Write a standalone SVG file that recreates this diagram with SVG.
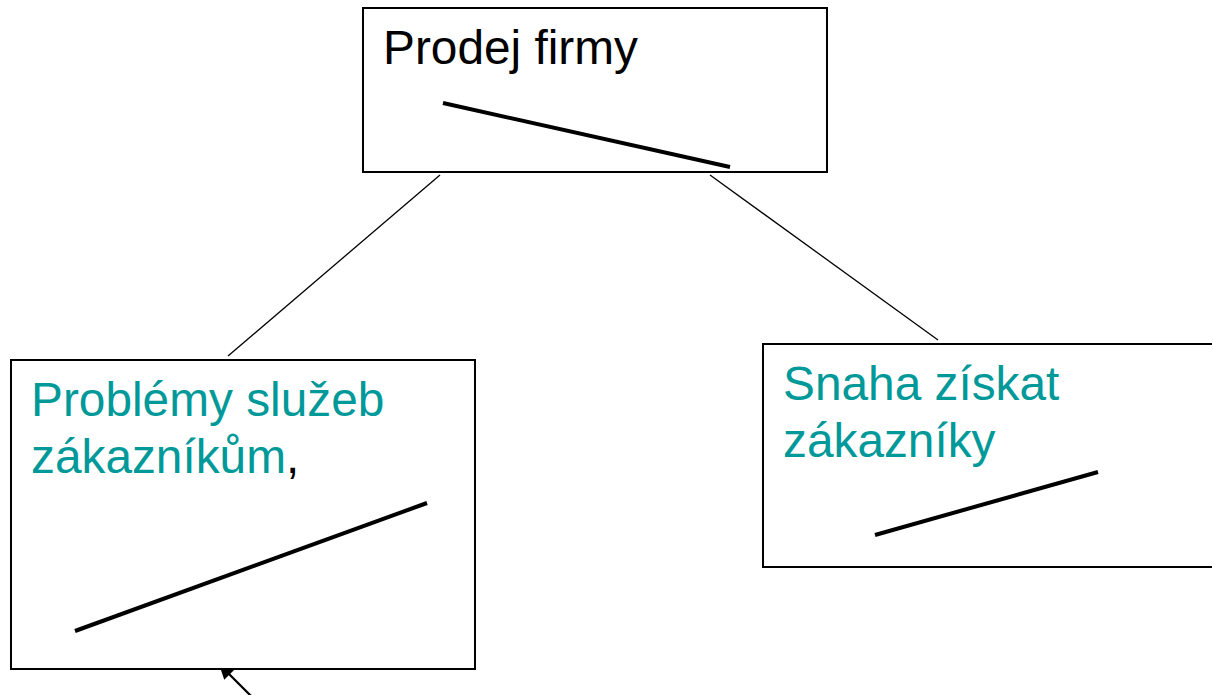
<svg xmlns="http://www.w3.org/2000/svg" width="1212" height="695" viewBox="0 0 1212 695">
<style>
.box{fill:#fff;stroke:#000;stroke-width:2}
.t{font-family:"Liberation Sans",Arial,sans-serif;font-size:47.8px}
.teal{fill:#009999}
.blk{fill:#000}
.bar{stroke:#000;stroke-width:4;stroke-linecap:butt}
.conn{stroke:#000;stroke-width:1.3;fill:none}
.arr{stroke:#000;stroke-width:2.2;fill:none}
</style>
<defs>
<marker id="ah" viewBox="0 0 10 10" refX="9" refY="5" markerWidth="17" markerHeight="15" markerUnits="userSpaceOnUse" orient="auto">
<path d="M0,0 L10,5 L0,10 z" fill="#000"/>
</marker>
</defs>
<g id="connectors">
<line class="conn" x1="440" y1="175" x2="228" y2="356"/>
<line class="conn" x1="710" y1="175" x2="938" y2="340"/>
<line class="arr" x1="265" y1="710" x2="220" y2="665" marker-end="url(#ah)"/>
</g>
<g id="node-prodej">
<rect class="box" x="363" y="8" width="464" height="164"/>
<text class="t blk" x="383" y="64">Prodej firmy</text>
<line class="bar" x1="443" y1="103" x2="730" y2="167"/>
</g>
<g id="node-problemy">
<rect class="box" x="11" y="360" width="464" height="309"/>
<text class="t teal" x="31" y="416">Problémy služeb</text>
<text class="t teal" x="31" y="473">zákazníkům<tspan class="blk">,</tspan></text>
<line class="bar" x1="75" y1="631" x2="427" y2="503"/>
</g>
<g id="node-snaha">
<rect class="box" x="763" y="344" width="460" height="223"/>
<text class="t teal" x="783" y="400">Snaha získat</text>
<text class="t teal" x="783" y="457">zákazníky</text>
<line class="bar" x1="875" y1="535" x2="1098" y2="472"/>
</g>
</svg>
